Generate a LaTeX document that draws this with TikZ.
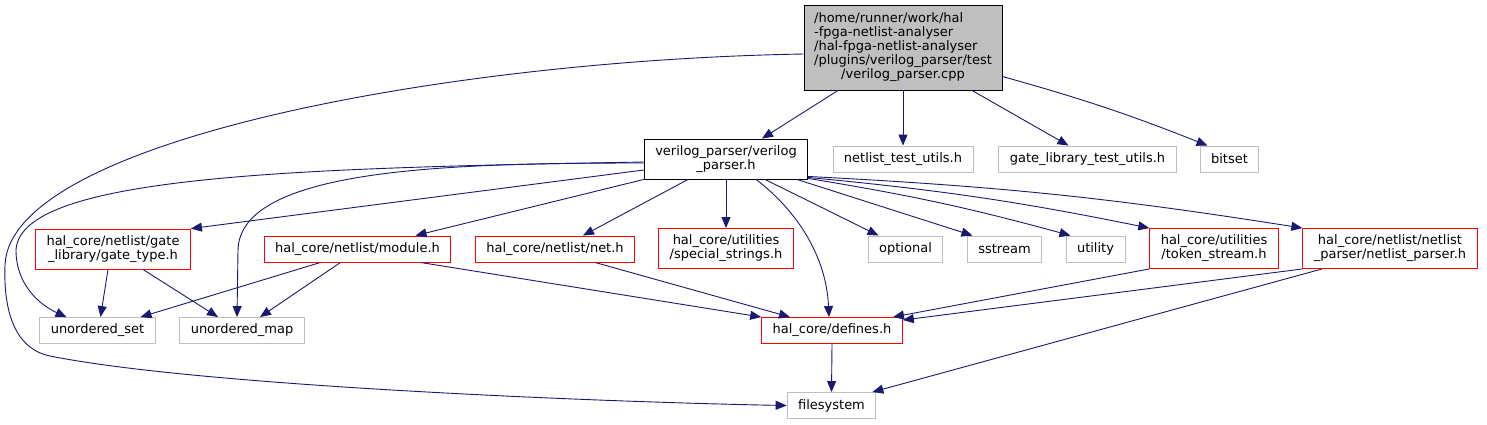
\documentclass[tikz,border=0pt]{standalone}
\usepackage{fontspec}
\setmainfont{DejaVu Sans}
\usepackage{tikz}
\usetikzlibrary{arrows.meta,positioning}
\definecolor{edgeblue}{RGB}{25,25,112}
\definecolor{boxgray}{RGB}{191,191,191}
\definecolor{boxred}{RGB}{255,0,0}

\begin{document}
\begin{tikzpicture}[
  x=1pt, y=-1pt,
  every node/.style={font=\fontsize{13}{14}\selectfont},
  filebox/.style={draw, line width=0.9pt, fill=white, inner xsep=11pt, inner ysep=2pt, minimum height=26pt, align=center},
  sysbox/.style={filebox, draw=boxgray},
  redbox/.style={filebox, draw=boxred},
  hdrbox/.style={filebox, draw=black},
  twoline/.style={minimum height=40pt},
  dep/.style={-{Triangle[length=11pt,width=9pt,fill=edgeblue]}, draw=edgeblue, line width=0.9pt},
]
\useasboundingbox (0,0) rectangle (1487,424);

\node[filebox, draw=black, fill=boxgray, minimum width=198pt, minimum height=85pt, inner xsep=4pt] (src) at (903,47.5)
  {\begin{tabular}{@{}l@{}}/home/runner/work/hal\\-fpga-netlist-analyser\\/hal-fpga-netlist-analyser\\/plugins/verilog\_parser/test\\\multicolumn{1}{@{}c@{}}{/verilog\_parser.cpp}\end{tabular}};

\node[hdrbox, twoline] (vp) at (726,159) {verilog\_parser/verilog\\\_parser.h};
\node[sysbox] (ntu) at (903,159) {netlist\_test\_utils.h};
\node[sysbox] (glt) at (1087.5,159) {gate\_library\_test\_utils.h};
\node[sysbox] (bits) at (1229.5,159) {bitset};

\node[redbox, twoline] (gtype) at (113,249) {hal\_core/netlist/gate\\\_library/gate\_type.h};
\node[redbox] (mod) at (357.5,249) {hal\_core/netlist/module.h};
\node[redbox] (net) at (555,249) {hal\_core/netlist/net.h};
\node[redbox, twoline] (sstr) at (726,248.5) {hal\_core/utilities\\/special\_strings.h};
\node[sysbox] (opt) at (905.5,249) {optional};
\node[sysbox] (sst) at (1004.5,249) {sstream};
\node[sysbox] (util) at (1095.5,249) {utility};
\node[redbox, twoline] (tok) at (1214,248.5) {hal\_core/utilities\\/token\_stream.h};
\node[redbox, twoline] (npar) at (1390,248.5) {hal\_core/netlist/netlist\\\_parser/netlist\_parser.h};

\node[sysbox] (uset) at (97.5,330.5) {unordered\_set};
\node[sysbox] (umap) at (242,330.5) {unordered\_map};
\node[redbox] (def) at (832,330.5) {hal\_core/defines.h};
\node[sysbox] (fs) at (831.5,405.5) {filesystem};

\draw[dep] ([xshift=-65]src.south) -- ([xshift=36]vp.north);
\draw[dep] (src.south) -- (ntu.north);
\draw[dep] ([xshift=69]src.south) -- ([xshift=-19]glt.north);
\draw[dep] ([yshift=-29]src.east) to[bend left=3] ([xshift=-22]bits.north);
\draw[dep] ([yshift=-6.5]src.west) .. controls (450,60) and (10,140) .. (5,265)
  .. controls (3,320) and (20,350) .. (50,356)
  .. controls (200,386) and (600,402) .. (fs.west);

\draw[dep] ([yshift=-3]vp.west) .. controls (300,168) and (20,175) .. (16,250)
  .. controls (16,285) and (40,305) .. ([xshift=-31]uset.north);
\draw[dep] ([yshift=-4]vp.west) .. controls (450,163) and (240,168) .. (238,250) -- ([xshift=-5]umap.north);
\draw[dep] ([yshift=-11]vp.west) -- (gtype.north east);
\draw[dep] (vp.south west) -- ([xshift=58]mod.north);
\draw[dep] ([xshift=-38]vp.south) -- ([xshift=28]net.north);
\draw[dep] (vp.south) -- (sstr.north);
\draw[dep] ([xshift=30]vp.south) .. controls (790,205) and (826,250) .. ([xshift=-3]def.north);
\draw[dep] ([xshift=39]vp.south) -- ([xshift=-27]opt.north);
\draw[dep] ([xshift=71]vp.south) -- ([xshift=-32]sst.north);
\draw[dep] ([yshift=1]vp.south east) to[bend left=3] ([xshift=-25]util.north);
\draw[dep] ([yshift=2]vp.south east) to[bend left=3] (tok.north west);
\draw[dep] ([yshift=3]vp.south east) to[bend left=3] (npar.north west);

\draw[dep] ([xshift=-5]gtype.south) -- ([xshift=3]uset.north);
\draw[dep] ([xshift=30]gtype.south) -- ([xshift=-24]umap.north);
\draw[dep] ([xshift=-37]mod.south) -- ([xshift=43]uset.north);
\draw[dep] ([xshift=-17]mod.south) -- ([xshift=18]umap.north);
\draw[dep] ([xshift=63]mod.south) -- (def.north west);
\draw[dep] ([xshift=40]net.south) -- ([xshift=-42]def.north);
\draw[dep] (tok.south west) -- ([xshift=61]def.north);
\draw[dep] (npar.south west) -- ([yshift=-3]def.north east);
\draw[dep] ([xshift=-68]npar.south) -- ([xshift=-4]fs.north east);
\draw[dep] (def.south) -- (fs.north);
\end{tikzpicture}
\end{document}
